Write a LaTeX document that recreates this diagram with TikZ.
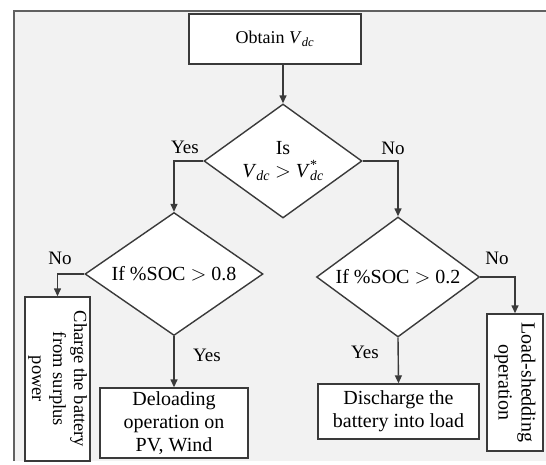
\documentclass[tikz,border=0pt]{standalone}
\usepackage{fontspec}
\setmainfont{Liberation Serif}
\usetikzlibrary{shapes.geometric,arrows.meta}
\definecolor{bg}{HTML}{F2F2F2}
\definecolor{ln}{HTML}{3A3A3A}
\tikzset{
  box/.style={draw=ln, line width=1.4pt, fill=white, inner sep=2pt, align=center},
  dia/.style={diamond, draw=ln, line width=1.4pt, fill=white, inner sep=0pt, aspect=1},
  txt/.style={align=center, font=\fontsize{20}{23}\selectfont, inner sep=0pt},
  lbl/.style={font=\fontsize{19}{22}\selectfont, inner sep=0pt},
  conn/.style={draw=ln, line width=1.4pt},
  arr/.style={conn, -{Triangle[length=8pt,width=7pt]}}
}
\newcommand{\Vdc}{\textit{V}\textsubscript{\textit{dc}}}
\newcommand{\Vref}{\textit{V}\makebox[0pt][l]{\textsuperscript{*}}\textsubscript{\textit{dc}}}
\begin{document}
\begin{tikzpicture}[x=1pt,y=-1pt]
\useasboundingbox (0,0) rectangle (546,464);
\fill[bg] (14,11) rectangle (546,461);
\draw[ln!80, line width=2pt] (14,461) -- (14,11) -- (546,11);

\node[box, minimum width=172, minimum height=50, font=\fontsize{18}{21}\selectfont] (obt) at (275,39) {Obtain \Vdc};
\node[dia, minimum width=158, minimum height=114] (d1) at (283,161) {};
\node[txt] at (d1) {Is\\\Vdc{} $>$ \Vref};

\node[dia, minimum width=178, minimum height=123] (d2) at (174,274) {};
\node[txt] at (d2) {If \%SOC $>$ 0.8};

\node[dia, minimum width=163, minimum height=120] (d3) at (398,277) {};
\node[txt] at (d3) {If \%SOC $>$ 0.2};

\node[box, minimum width=65, minimum height=164] (chg) at (57.5,379) {};
\node[txt, rotate=-90, font=\fontsize{18.5}{21}\selectfont] at (chg) {Charge the battery\\from surplus\\power};

\node[box, minimum width=148, minimum height=70] (del) at (174,423) {};
\node[txt] at (del) {Deloading\\operation on\\PV, Wind};

\node[box, minimum width=161, minimum height=55] (dis) at (398.5,411.5) {};
\node[txt] at (dis) {Discharge the\\battery into load};

\node[box, minimum width=56, minimum height=137] (lsh) at (515,382.5) {};
\node[txt, rotate=-90] at (lsh) {Load-shedding\\operation};

\draw[arr] (d1.north |- obt.south) -- (d1.north);
\draw[arr] (d1.west) -| (d2.north);
\draw[arr] (d1.east) -| (d3.north);
\draw[arr] (d2.west) -| (chg.north);
\draw[arr] (d2.south) -- (del.north);
\draw[arr] (d3.east) -| (lsh.north);
\draw[arr] (d3.south) -- (dis.north);

\node[lbl] (y1) at (185,147) {Yes};
\node[lbl] (n1) at (393,148) {No};
\node[lbl] (n2) at (60,258) {No};
\node[lbl] (y2) at (207,355) {Yes};
\node[lbl] (y3) at (365,352) {Yes};
\node[lbl] (n3) at (497,258) {No};
\end{tikzpicture}
\end{document}
